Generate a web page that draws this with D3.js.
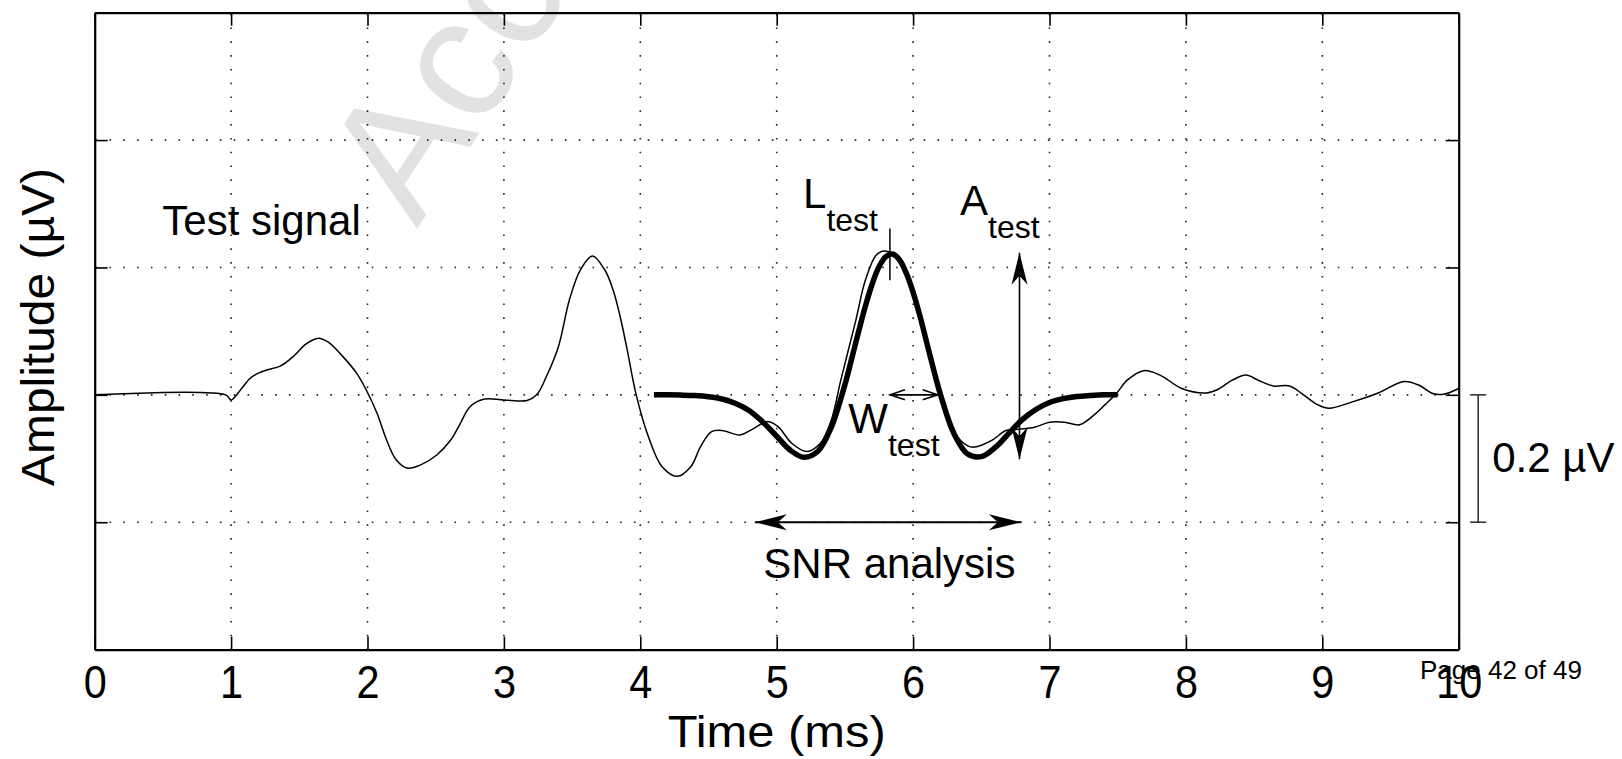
<!DOCTYPE html>
<html>
<head>
<meta charset="utf-8">
<script src="https://cdn.jsdelivr.net/npm/d3@7"></script>
<style>
  html, body { margin: 0; padding: 0; background: #fff; }
  svg { display: block; font-family: "Liberation Sans", Arial, Helvetica, sans-serif; }
</style>
</head>
<body>
<svg id="chart" width="1622" height="759"></svg>
<script>
// ---- data -------------------------------------------------------------
const xTicks = [0, 1, 2, 3, 4, 5, 6, 7, 8, 9, 10];
const yTicks = [-0.4, -0.2, 0, 0.2, 0.4, 0.6];

// recorded test signal: [time (ms), amplitude (µV)]
const testSignal = [
  [0, 0], [0.96, 0], [1.0, -0.008], [1.07, 0.008], [1.14, 0.026], [1.2, 0.034],
  [1.26, 0.039], [1.36, 0.045], [1.46, 0.061], [1.55, 0.080], [1.64, 0.089],
  [1.71, 0.083], [1.82, 0.060], [1.92, 0.034], [1.99, 0.008], [2.07, -0.029],
  [2.14, -0.071], [2.21, -0.102], [2.29, -0.115], [2.39, -0.110], [2.51, -0.094],
  [2.61, -0.071], [2.68, -0.045], [2.75, -0.019], [2.85, -0.007], [3.0, -0.008],
  [3.17, -0.009], [3.24, 0.0], [3.31, 0.028], [3.40, 0.076], [3.48, 0.149],
  [3.56, 0.196], [3.65, 0.218], [3.74, 0.196], [3.80, 0.165], [3.85, 0.125],
  [3.90, 0.075], [3.97, 0.0], [4.06, -0.066], [4.16, -0.113], [4.27, -0.128],
  [4.37, -0.113], [4.44, -0.082], [4.52, -0.058], [4.60, -0.056], [4.73, -0.063],
  [4.83, -0.053], [4.93, -0.042], [5.01, -0.050], [5.11, -0.076], [5.22, -0.089],
  [5.32, -0.076], [5.40, -0.040], [5.47, 0.023], [5.58, 0.117], [5.65, 0.180],
  [5.73, 0.2195], [5.79, 0.226], [5.85, 0.221], [5.90, 0.208], [6.00, 0.160],
  [6.10, 0.082], [6.20, 0.0], [6.30, -0.058], [6.40, -0.080], [6.45, -0.082],
  [6.58, -0.071], [6.68, -0.056], [6.78, -0.054], [6.89, -0.051], [7.00, -0.043],
  [7.11, -0.043], [7.22, -0.047], [7.33, -0.031], [7.41, -0.015], [7.49, 0.002],
  [7.57, 0.023], [7.69, 0.038], [7.81, 0.031], [7.97, 0.010], [8.15, 0.003],
  [8.23, 0.008], [8.34, 0.023], [8.44, 0.031], [8.53, 0.023], [8.64, 0.014],
  [8.76, 0.014], [8.85, 0.002], [8.96, -0.015], [9.05, -0.021], [9.22, -0.011],
  [9.41, 0.003], [9.60, 0.021], [9.71, 0.015], [9.81, 0.002], [9.89, 0.001],
  [10.0, 0.010]
];

// fitted template waveform: [time (ms), amplitude (µV)]
const template = [
  [4.1, 0], [4.2, 0], [4.3, -0.0004], [4.4, -0.0012], [4.5, -0.003], [4.6, -0.0065],
  [4.7, -0.0135], [4.8, -0.025], [4.9, -0.043], [5.0, -0.065], [5.1, -0.087],
  [5.2, -0.098], [5.3, -0.089], [5.4, -0.051], [5.5, 0.016], [5.55, 0.057],
  [5.6, 0.099], [5.65, 0.139], [5.7, 0.174], [5.75, 0.201], [5.8, 0.217],
  [5.85, 0.221], [5.9, 0.212], [5.95, 0.191], [6.0, 0.161], [6.05, 0.124],
  [6.1, 0.082], [6.15, 0.040], [6.2, 0.001], [6.3, -0.061], [6.4, -0.093],
  [6.5, -0.097], [6.6, -0.083], [6.7, -0.061], [6.8, -0.039], [6.9, -0.023],
  [7.0, -0.012], [7.1, -0.006], [7.2, -0.0025], [7.3, -0.001], [7.4, 0], [7.5, 0]
];

// annotation geometry in data units
const latencyTick = [[5.83, 0.180], [5.83, 0.261]];
const amplitudeArrow = [[6.78, 0.223], [6.78, -0.101]];
const widthArrow = [[5.83, 0], [6.18, 0]];
const snrArrow = [[4.84, -0.2], [6.79, -0.2]];
const scaleBar = [0, -0.2];

// ---- layout -----------------------------------------------------------
const svg = d3.select("#chart");
const plot = { left: 94.7, right: 1458.7, top: 12.7, bottom: 649.6 };

const x = d3.scaleLinear().domain([0, 10]).range([plot.left, plot.right]);
const y = d3.scaleLinear().domain([-0.4, 0.6]).range([plot.bottom, plot.top]);

// faint "Accepted Manuscript" stamp behind the figure
svg.append("text")
  .attr("transform", "translate(417,229) rotate(-57)")
  .attr("font-size", 172)
  .attr("fill", "#e2e2e2")
  .text("Accepted Manuscript");

// ---- dotted grid ------------------------------------------------------
const grid = svg.append("g")
  .attr("stroke", "#222")
  .attr("stroke-width", 1.6)
  .attr("stroke-dasharray", "1.6,12.2");

grid.selectAll(".gx")
  .data(xTicks.filter(d => d > 0 && d < 10))
  .join("line")
  .attr("x1", d => x(d)).attr("x2", d => x(d))
  .attr("y1", y(0.6) + 1).attr("y2", y(-0.4));

grid.selectAll(".gy")
  .data(yTicks.filter(d => d > -0.4 && d < 0.6))
  .join("line")
  .attr("y1", d => y(d)).attr("y2", d => y(d))
  .attr("x1", x(0) + 1).attr("x2", x(10));

// ---- axes (ticks inward on all four sides) ----------------------------
const tickLen = 13;
const tickFont = 46;
function styleAxis(g) {
  g.select(".domain").attr("stroke", "#000").attr("stroke-width", 2.2);
  g.selectAll(".tick line").attr("stroke", "#000").attr("stroke-width", 1.6);
}

const bottomAxis = svg.append("g")
  .attr("transform", `translate(0,${plot.bottom})`)
  .call(d3.axisBottom(x).tickValues(xTicks).tickSizeInner(-tickLen).tickSizeOuter(0).tickPadding(15.5))
  .call(styleAxis);
bottomAxis.selectAll(".tick text")
  .attr("font-family", "\"Liberation Sans\", Arial, sans-serif")
  .attr("font-size", tickFont)
  .attr("fill", "#000");

svg.append("g")
  .attr("transform", `translate(0,${plot.top})`)
  .call(d3.axisTop(x).tickValues(xTicks).tickSizeInner(-tickLen).tickSizeOuter(0).tickFormat(""))
  .call(styleAxis);

svg.append("g")
  .attr("transform", `translate(${plot.left},0)`)
  .call(d3.axisLeft(y).tickValues(yTicks).tickSizeInner(-tickLen).tickSizeOuter(0).tickFormat(""))
  .call(styleAxis);

svg.append("g")
  .attr("transform", `translate(${plot.right},0)`)
  .call(d3.axisRight(y).tickValues(yTicks).tickSizeInner(-tickLen).tickSizeOuter(0).tickFormat(""))
  .call(styleAxis);

// tick numerals are set a little narrower than the regular face
bottomAxis.selectAll(".tick text").each(function () {
  const w = this.getComputedTextLength();
  d3.select(this).attr("textLength", w * 0.9).attr("lengthAdjust", "spacingAndGlyphs");
});

// ---- waveforms --------------------------------------------------------
const line = d3.line()
  .x(d => x(d[0]))
  .y(d => y(d[1]))
  .curve(d3.curveCatmullRom.alpha(0.5));

svg.append("path")
  .datum(template)
  .attr("fill", "none")
  .attr("stroke", "#000")
  .attr("stroke-width", 5.5)
  .attr("stroke-linejoin", "round")
  .attr("d", line);

svg.append("path")
  .datum(testSignal)
  .attr("fill", "none")
  .attr("stroke", "#000")
  .attr("stroke-width", 1.5)
  .attr("stroke-linejoin", "round")
  .attr("d", line);

// ---- arrow markers ----------------------------------------------------
const defs = svg.append("defs");
defs.append("marker")
  .attr("id", "dart")
  .attr("viewBox", "-33 -9 34 18")
  .attr("refX", 0).attr("refY", 0)
  .attr("markerWidth", 34).attr("markerHeight", 18)
  .attr("markerUnits", "userSpaceOnUse")
  .attr("orient", "auto-start-reverse")
  .append("path")
  .attr("d", "M0,0 L-32,-8 L-23,0 L-32,8 Z")
  .attr("fill", "#000");

defs.append("marker")
  .attr("id", "chevron")
  .attr("viewBox", "-17 -7 19 14")
  .attr("refX", 0).attr("refY", 0)
  .attr("markerWidth", 19).attr("markerHeight", 14)
  .attr("markerUnits", "userSpaceOnUse")
  .attr("orient", "auto-start-reverse")
  .append("path")
  .attr("d", "M-15,-5 L0,0 L-15,5")
  .attr("fill", "none")
  .attr("stroke", "#000")
  .attr("stroke-width", 1.6);

const seg = d3.line().x(d => x(d[0])).y(d => y(d[1]));

svg.append("path").datum(latencyTick)
  .attr("d", seg).attr("stroke", "#000").attr("stroke-width", 1.5);

svg.append("path").datum(amplitudeArrow)
  .attr("d", seg).attr("stroke", "#000").attr("stroke-width", 1.6)
  .attr("marker-start", "url(#dart)").attr("marker-end", "url(#dart)");

svg.append("path").datum(widthArrow)
  .attr("d", seg).attr("stroke", "#000").attr("stroke-width", 1.6)
  .attr("marker-start", "url(#chevron)").attr("marker-end", "url(#chevron)");

svg.append("path").datum(snrArrow)
  .attr("d", seg).attr("stroke", "#000").attr("stroke-width", 2)
  .attr("marker-start", "url(#dart)").attr("marker-end", "url(#dart)");

// ---- annotation text --------------------------------------------------
const mainSize = 42, subSize = 32, subDrop = 22.5;
function subLabel(tx, vy, letter) {
  const t = svg.append("text")
    .attr("x", x(tx)).attr("y", y(vy))
    .attr("font-size", mainSize).attr("fill", "#000");
  t.append("tspan").text(letter);
  t.append("tspan").attr("font-size", subSize).attr("dy", subDrop).text("test");
}
subLabel(5.193, 0.293, "L");
subLabel(6.344, 0.282, "A");
subLabel(5.525, -0.060, "W");

svg.append("text")
  .attr("x", x(0.496)).attr("y", y(0.251))
  .attr("font-size", mainSize).attr("fill", "#000")
  .text("Test signal");

svg.append("text")
  .attr("x", x(4.902)).attr("y", y(-0.288))
  .attr("font-size", mainSize).attr("fill", "#000")
  .text("SNR analysis");

// ---- amplitude scale bar outside the axes -----------------------------
const barX = plot.right + 19.5;
const bar = svg.append("g").attr("stroke", "#333").attr("stroke-width", 1.6);
bar.append("line").attr("x1", barX).attr("x2", barX).attr("y1", y(scaleBar[0])).attr("y2", y(scaleBar[1]));
scaleBar.forEach(v => {
  bar.append("line").attr("x1", barX - 8).attr("x2", barX + 8).attr("y1", y(v)).attr("y2", y(v));
});
svg.append("text")
  .attr("x", barX + 14).attr("y", y(-0.121))
  .attr("font-size", mainSize).attr("fill", "#000")
  .text("0.2 \u00b5V");

// ---- axis titles ------------------------------------------------------
svg.append("text")
  .attr("x", (plot.left + plot.right) / 2).attr("y", 747)
  .attr("text-anchor", "middle")
  .attr("font-size", 44).attr("fill", "#000")
  .attr("textLength", 218).attr("lengthAdjust", "spacingAndGlyphs")
  .text("Time (ms)");

svg.append("text")
  .attr("transform", `translate(54,${(168 + 486) / 2}) rotate(-90)`)
  .attr("text-anchor", "middle")
  .attr("font-size", 47).attr("fill", "#000")
  .attr("textLength", 318).attr("lengthAdjust", "spacingAndGlyphs")
  .text("Amplitude (\u00b5V)");

// page footer printed over the last tick label
svg.append("text")
  .attr("x", 1420).attr("y", 679)
  .attr("font-size", 26).attr("fill", "#000")
  .text("Page 42 of 49");
</script>
</body>
</html>
